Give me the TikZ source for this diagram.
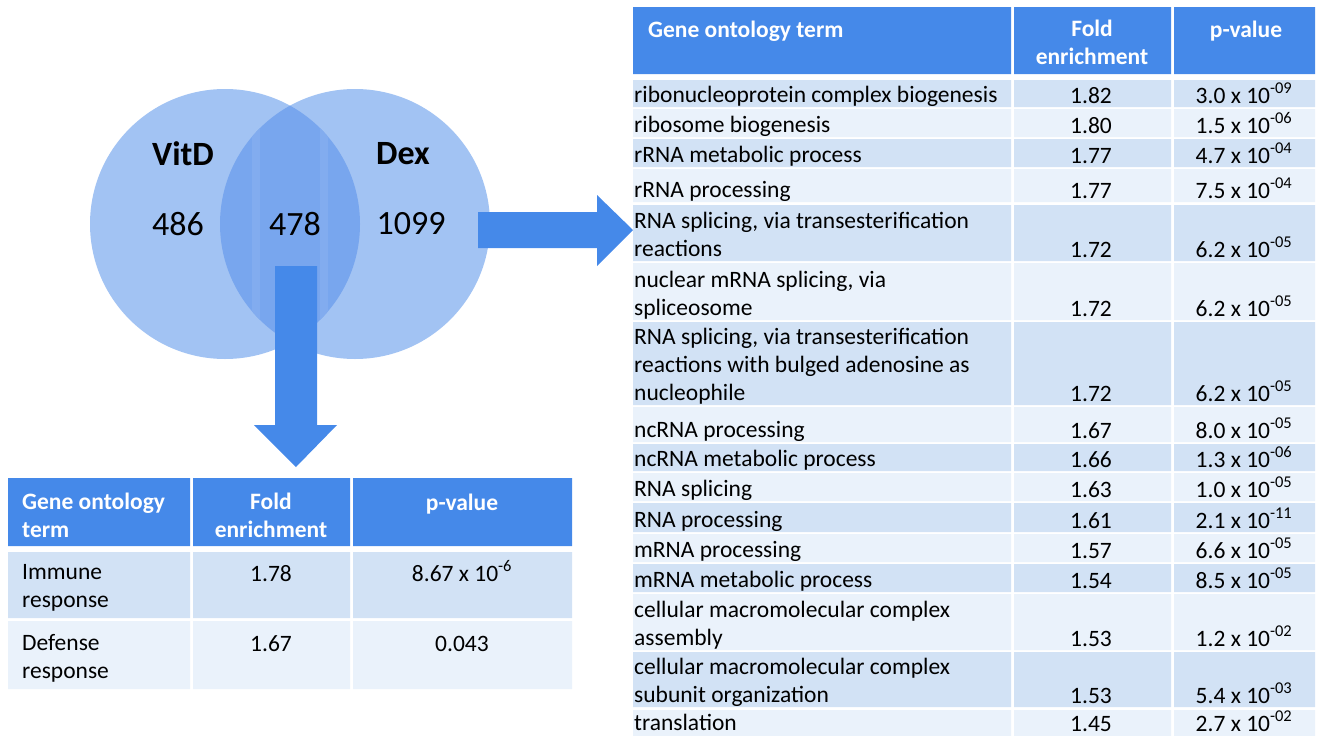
\documentclass[tikz,border=0pt]{standalone}
\usepackage{fontspec}
\setmainfont{Carlito}
\usetikzlibrary{positioning}
\definecolor{hdrblue}{RGB}{69,137,233}
\definecolor{rowdark}{RGB}{210,226,245}
\definecolor{rowlight}{RGB}{234,242,251}
\definecolor{vennlight}{RGB}{162,195,243}
\definecolor{venndark}{RGB}{120,166,238}
\definecolor{stripeblue}{RGB}{130,172,239}

\begin{document}
\begin{tikzpicture}[x=1pt, y=-1pt,
    term/.style={anchor=south west, inner sep=0pt, text depth=0pt, align=left, font=\fontsize{23.5}{28}\selectfont},
    num/.style={anchor=base, inner sep=0pt, text depth=0pt, font=\fontsize{23.5}{28}\selectfont},
    head/.style={inner sep=0pt, text depth=0pt, text=white, align=center, font=\fontsize{23.5}{28}\selectfont\bfseries},
    venn/.style={inner sep=0pt, font=\fontsize{34}{40}\selectfont}]
    \useasboundingbox (0,0) rectangle (1318,736);

    % Venn circles
    \fill[vennlight] (225,224) circle[radius=135];
    \fill[vennlight] (355,224) circle[radius=135];
    \begin{scope}
        \clip (225,224) circle[radius=135];
        \clip (355,224) circle[radius=135];
        \fill[venndark] (200,80) rectangle (380,370);
        \fill[stripeblue] (252,80) rectangle (260,370);
        \fill[stripeblue] (320,80) rectangle (328,370);
    \end{scope}
    \node[venn, font=\fontsize{34}{40}\selectfont\bfseries] (vitd) at (183,154) {VitD};
    \node[venn, font=\fontsize{34}{40}\selectfont\bfseries] (dex) at (403,154) {Dex};
    \node[venn] (n486) at (178,224) {486};
    \node[venn] (n478) at (295,224) {478};
    \node[venn] (n1099) at (411,224) {1099};

    % Arrows
    \fill[hdrblue] (478,212) -- (597,212) -- (597,195) -- (633,230) -- (597,266) -- (597,248) -- (478,248) -- cycle;
    \fill[hdrblue] (275,266) -- (317,266) -- (317,425) -- (337,425) -- (296,467) -- (254,425) -- (275,425) -- cycle;

    % Small table
    \fill[hdrblue] (8,478) rectangle (190,546) (193,478) rectangle (350,546) (353,478) rectangle (572,546);
    \fill[rowdark] (8,552) rectangle (190,618) (193,552) rectangle (350,618) (353,552) rectangle (572,618);
    \fill[rowlight] (8,621) rectangle (190,689) (193,621) rectangle (350,689) (353,621) rectangle (572,689);
    \node[head, align=left, anchor=south west] (sh1) at (22,538) {Gene ontology\\term};
    \node[head, anchor=south] (sh2) at (271,538) {Fold\\enrichment};
    \node[head, anchor=base] (sh3) at (462,510) {p-value};
    \node[term] (s1a) at (22,608) {Immune\\response};
    \node[num] (s1b) at (271,581) {1.78};
    \node[num] (s1c) at (462,581) {8.67 x 10\textsuperscript{-6}};
    \node[term] (s2a) at (22,679) {Defense\\response};
    \node[num] (s2b) at (271,651) {1.67};
    \node[num] (s2c) at (462,651) {0.043};

    % Large table
    \fill[hdrblue] (633,7) rectangle (1011,74) (1014,7) rectangle (1171,74) (1174,7) rectangle (1315,74);
    \node[head, anchor=base west] (th1) at (648,37) {Gene ontology term};
    \node[head, anchor=south] (th2) at (1092,65) {Fold\\enrichment};
    \node[head, anchor=base] (th3) at (1246,37) {p-value};

    \fill[rowdark] (633,80) rectangle (1011,107) (1014,80) rectangle (1171,107) (1174,80) rectangle (1315,107);
    \node[term] (r1a) at (634,103) {ribonucleoprotein complex biogenesis};
    \node[num] (r1b) at (1091,103) {1.82};
    \node[num] (r1c) at (1244,103) {3.0 x 10\textsuperscript{-09}};

    \fill[rowlight] (633,109) rectangle (1011,137) (1014,109) rectangle (1171,137) (1174,109) rectangle (1315,137);
    \node[term] (r2a) at (634,133) {ribosome biogenesis};
    \node[num] (r2b) at (1091,133) {1.80};
    \node[num] (r2c) at (1244,133) {1.5 x 10\textsuperscript{-06}};

    \fill[rowdark] (633,139) rectangle (1011,167) (1014,139) rectangle (1171,167) (1174,139) rectangle (1315,167);
    \node[term] (r3a) at (634,163) {rRNA metabolic process};
    \node[num] (r3b) at (1091,163) {1.77};
    \node[num] (r3c) at (1244,163) {4.7 x 10\textsuperscript{-04}};

    \fill[rowlight] (633,169) rectangle (1011,202) (1014,169) rectangle (1171,202) (1174,169) rectangle (1315,202);
    \node[term] (r4a) at (634,198) {rRNA processing};
    \node[num] (r4b) at (1091,198) {1.77};
    \node[num] (r4c) at (1244,198) {7.5 x 10\textsuperscript{-04}};

    \fill[rowdark] (633,205) rectangle (1011,261) (1014,205) rectangle (1171,261) (1174,205) rectangle (1315,261);
    \node[term] (r5a) at (634,257) {RNA splicing, via transesterification\\reactions};
    \node[num] (r5b) at (1091,257) {1.72};
    \node[num] (r5c) at (1244,257) {6.2 x 10\textsuperscript{-05}};

    \fill[rowlight] (633,263) rectangle (1011,320) (1014,263) rectangle (1171,320) (1174,263) rectangle (1315,320);
    \node[term] (r6a) at (634,316) {nuclear mRNA splicing, via\\spliceosome};
    \node[num] (r6b) at (1091,316) {1.72};
    \node[num] (r6c) at (1244,316) {6.2 x 10\textsuperscript{-05}};

    \fill[rowdark] (633,322) rectangle (1011,405) (1014,322) rectangle (1171,405) (1174,322) rectangle (1315,405);
    \node[term] (r7a) at (634,401) {RNA splicing, via transesterification\\reactions with bulged adenosine as\\nucleophile};
    \node[num] (r7b) at (1091,401) {1.72};
    \node[num] (r7c) at (1244,401) {6.2 x 10\textsuperscript{-05}};

    \fill[rowlight] (633,407) rectangle (1011,442) (1014,407) rectangle (1171,442) (1174,407) rectangle (1315,442);
    \node[term] (r8a) at (634,438) {ncRNA processing};
    \node[num] (r8b) at (1091,438) {1.67};
    \node[num] (r8c) at (1244,438) {8.0 x 10\textsuperscript{-05}};

    \fill[rowdark] (633,444) rectangle (1011,471) (1014,444) rectangle (1171,471) (1174,444) rectangle (1315,471);
    \node[term] (r9a) at (634,467) {ncRNA metabolic process};
    \node[num] (r9b) at (1091,467) {1.66};
    \node[num] (r9c) at (1244,467) {1.3 x 10\textsuperscript{-06}};

    \fill[rowlight] (633,473) rectangle (1011,501) (1014,473) rectangle (1171,501) (1174,473) rectangle (1315,501);
    \node[term] (r10a) at (634,497) {RNA splicing};
    \node[num] (r10b) at (1091,497) {1.63};
    \node[num] (r10c) at (1244,497) {1.0 x 10\textsuperscript{-05}};

    \fill[rowdark] (633,503) rectangle (1011,532) (1014,503) rectangle (1171,532) (1174,503) rectangle (1315,532);
    \node[term] (r11a) at (634,528) {RNA processing};
    \node[num] (r11b) at (1091,528) {1.61};
    \node[num] (r11c) at (1244,528) {2.1 x 10\textsuperscript{-11}};

    \fill[rowlight] (633,534) rectangle (1011,562) (1014,534) rectangle (1171,562) (1174,534) rectangle (1315,562);
    \node[term] (r12a) at (634,558) {mRNA processing};
    \node[num] (r12b) at (1091,558) {1.57};
    \node[num] (r12c) at (1244,558) {6.6 x 10\textsuperscript{-05}};

    \fill[rowdark] (633,564) rectangle (1011,592) (1014,564) rectangle (1171,592) (1174,564) rectangle (1315,592);
    \node[term] (r13a) at (634,588) {mRNA metabolic process};
    \node[num] (r13b) at (1091,588) {1.54};
    \node[num] (r13c) at (1244,588) {8.5 x 10\textsuperscript{-05}};

    \fill[rowlight] (633,594) rectangle (1011,650) (1014,594) rectangle (1171,650) (1174,594) rectangle (1315,650);
    \node[term] (r14a) at (634,646) {cellular macromolecular complex\\assembly};
    \node[num] (r14b) at (1091,646) {1.53};
    \node[num] (r14c) at (1244,646) {1.2 x 10\textsuperscript{-02}};

    \fill[rowdark] (633,652) rectangle (1011,707) (1014,652) rectangle (1171,707) (1174,652) rectangle (1315,707);
    \node[term] (r15a) at (634,703) {cellular macromolecular complex\\subunit organization};
    \node[num] (r15b) at (1091,703) {1.53};
    \node[num] (r15c) at (1244,703) {5.4 x 10\textsuperscript{-03}};

    \fill[rowlight] (633,710) rectangle (1011,736) (1014,710) rectangle (1171,736) (1174,710) rectangle (1315,736);
    \node[term] (r16a) at (634,731) {translation};
    \node[num] (r16b) at (1091,731) {1.45};
    \node[num] (r16c) at (1244,731) {2.7 x 10\textsuperscript{-02}};
\end{tikzpicture}
\end{document}
